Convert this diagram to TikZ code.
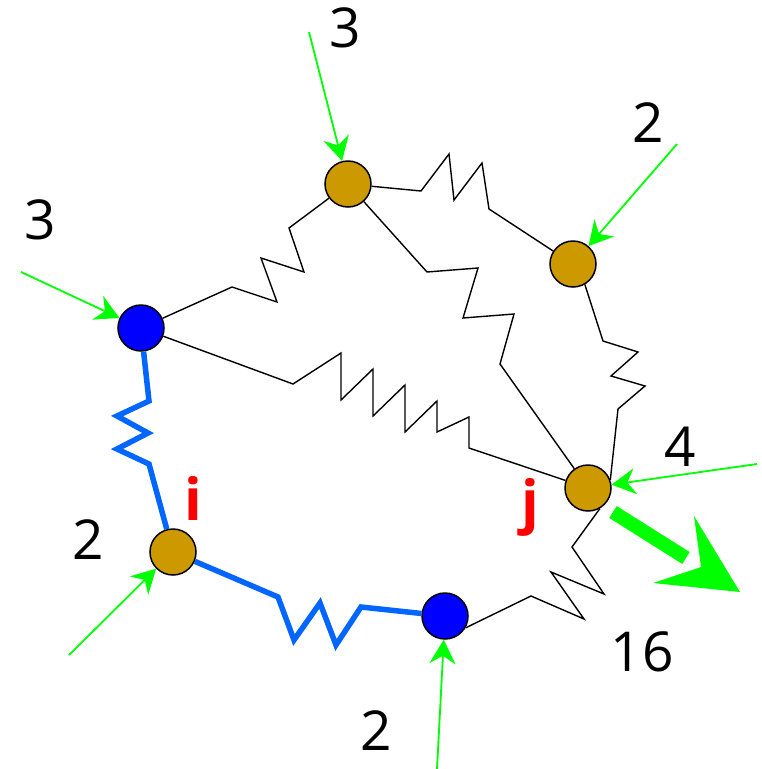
\documentclass[tikz,border=0pt]{standalone}
\usepackage{fontspec}
\setmainfont{Open Sans}
\usetikzlibrary{arrows.meta}

\definecolor{gold}{RGB}{204,153,0}
\definecolor{springblue}{RGB}{0,102,255}
\definecolor{feedgreen}{RGB}{0,255,0}

\begin{document}
\begin{tikzpicture}[
    x=1pt, y=-1pt,
    mass/.style={circle, draw, line width=1.5pt, inner sep=0pt, minimum size=46pt},
    heavy/.style={mass, fill=gold},
    light/.style={mass, fill=blue},
    spring/.style={line width=1.4pt, line join=miter},
    rod/.style={line width=5.5pt, springblue},
    feed/.style={-{Stealth[length=24pt, width=26pt, inset=8pt]}, line width=1.8pt, feedgreen},
    num/.style={font=\fontsize{55}{60}\selectfont},
    tag/.style={font=\fontsize{58}{62}\selectfont\bfseries, text=red}
  ]
    \useasboundingbox (0,0) rectangle (761,769);

    % masses
    \node[heavy] (T) at (348,184) {};
    \node[heavy] (R) at (573,264) {};
    \node[light] (L) at (141,328) {};
    \node[heavy] (I) at (173,552) {};
    \node[heavy] (J) at (588,488) {};
    \node[light] (B) at (445,616) {};

    % black springs
    \draw[spring] (L) -- (232,287) -- (277,302) -- (261,258) -- (304,272) -- (289,228) -- (T);
    \draw[spring] (T) -- (421,191) -- (449,154) -- (454,200) -- (482,163) -- (489,209) -- (R);
    \draw[spring] (T) -- (427,272) -- (478,268) -- (463,318) -- (514,314) -- (500,364) -- (J);
    \draw[spring] (L) -- (293,384) -- (341,353) -- (341,400) -- (373,369) -- (373,416) -- (405,385)
      -- (405,432) -- (437,401) -- (437,432) -- (469,417) -- (469,448) -- (J);
    \draw[spring] (R.-60) -- (603,341) -- (638,352) -- (611,376) -- (645,386) -- (618,409) -- (J.20);
    \draw[spring] (J.-60) -- (572,547) -- (604,594) -- (551,572) -- (584,619) -- (531,596) -- (B.-30);

    % blue springs
    \draw[rod] (L) -- (149,401) -- (117,416) -- (148,433) -- (117,449) -- (149,464) -- (I);
    \draw[rod] (I) -- (278,597) -- (294,640) -- (320,603) -- (336,645) -- (361,607) -- (B);

    % external forces
    \foreach \p/\n in {{309,32}/T, {677,144}/R, {21,272}/L, {69,655}/I, {437,769}/B, {757,464}/J}
      \draw[feed] (\p) -- (\n);

    % response at j
    \draw[line width=14pt, feedgreen] (613,512) -- (686,558);
    \fill[feedgreen] (694,516) -- (740,592) -- (653,583) -- (701,567) -- cycle;

    % labels
    \node[num] (fT) at (345,28) {3};
    \node[num] (fR) at (648,123) {2};
    \node[num] (fL) at (40,220) {3};
    \node[num] (fJ) at (680,447) {4};
    \node[num] (fI) at (88,540) {2};
    \node[num] (fB) at (376,731) {2};
    \node[num] (out) at (642,652) {16};
    \node[tag] (ti) at (193,498) {i};
    \node[tag] (tj) at (530,507) {j};
  \end{tikzpicture}
\end{document}
